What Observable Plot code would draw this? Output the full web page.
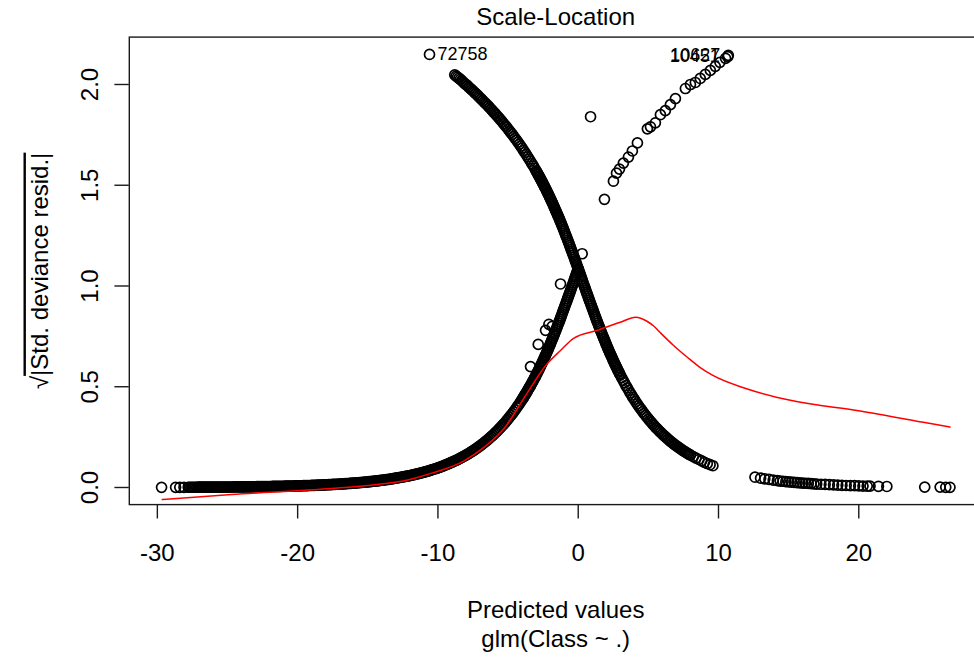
<!DOCTYPE html>
<html>
<head>
<meta charset="utf-8">
<script src="https://cdn.jsdelivr.net/npm/d3@7"></script>
<script src="https://cdn.jsdelivr.net/npm/@observablehq/plot@0.6"></script>
<style>
  html, body { margin: 0; padding: 0; background: #fff; }
  #chart { width: 974px; height: 659px; overflow: hidden; }
</style>
</head>
<body>
<div id="chart"></div>
<script>
// ---- Text ----
const titleText = "Scale-Location";
const xLabelText = "Predicted values";
const subLabelText = "glm(Class ~ .)";
const yLabelRoot = "√";
const yLabelBody = "|Std. deviance resid.|";

// ---- Axes ----
const xTicks = [-30, -20, -10, 0, 10, 20];
const xTickLabels = ["-30", "-20", "-10", "0", "10", "20"];
const yTicks = [0, 0.5, 1, 1.5, 2];
const yTickLabels = ["0.0", "0.5", "1.0", "1.5", "2.0"];

// ---- Points, group A (rising branch) ----
const xA = [-29.7, -28.7, -28.4, -28.1,
  -27.8, -27.6, -27.4, -27.2, -27.0, -26.8, -26.6, -26.4, -26.2, -26.0, -25.8, -25.6, -25.4, -25.2, -25.0,
  -24.8, -24.6, -24.4, -24.2, -24.0, -23.8, -23.6, -23.4, -23.2, -23.0, -22.8, -22.6, -22.4, -22.2, -22.0,
  -21.8, -21.6, -21.4, -21.2, -21.0, -20.8, -20.6, -20.4, -20.2, -20.0, -19.8, -19.6, -19.4, -19.2, -19.0,
  -18.8, -18.6, -18.4, -18.2, -18.0, -17.8, -17.6, -17.4, -17.2, -17.0, -16.8, -16.6, -16.4, -16.2, -16.0,
  -15.8, -15.6, -15.4, -15.2, -15.0, -14.8, -14.6, -14.4, -14.2, -14.0, -13.8, -13.6, -13.4, -13.2, -13.0,
  -12.8, -12.6, -12.4, -12.2, -12.0, -11.8, -11.6, -11.4, -11.2, -11.0, -10.8, -10.6, -10.4, -10.2, -10.0,
  -9.8, -9.6, -9.4, -9.2, -9.0, -8.8, -8.6, -8.4, -8.2, -8.0,
  -7.9, -7.8, -7.7, -7.6, -7.5, -7.4, -7.3, -7.2, -7.1, -7.0, -6.9, -6.8, -6.7, -6.6, -6.5, -6.4, -6.3, -6.2, -6.1, -6.0,
  -5.9, -5.8, -5.7, -5.6, -5.5, -5.4, -5.3, -5.2, -5.1, -5.0, -4.9, -4.8, -4.7, -4.6, -4.5, -4.4, -4.3, -4.2, -4.1, -4.0,
  -3.9, -3.8, -3.7, -3.6, -3.5, -3.4, -3.3, -3.2, -3.1, -3.0, -2.9, -2.8, -2.7, -2.6, -2.5, -2.4, -2.3, -2.2, -2.1, -2.0,
  -1.9, -1.8, -1.7, -1.6, -1.5, -1.4, -1.3, -1.2, -1.1, -1.0, -0.9, -0.8, -0.7, -0.6, -0.5, -0.4, -0.3, -0.2, -0.1, 0.0,
  -3.4, -2.85, -2.33, -2.09, -1.85, -1.26, 0.28, 0.88,
  1.87, 2.51, 2.73, 2.94, 3.22, 3.58, 3.86, 4.22, 4.93, 5.15, 5.50, 5.86, 6.21, 6.57, 6.93, 7.64, 8.00, 8.35,
  8.70, 9.06, 9.42, 9.77, 10.1, 10.5, 10.66, 10.7];
const yA = [0.0007, 0.0009, 0.001, 0.001,
  0.0011, 0.0012, 0.0012, 0.0013, 0.0014, 0.0015, 0.0015, 0.0016, 0.0017, 0.0018, 0.0019, 0.0020, 0.0021, 0.0022, 0.0023,
  0.0024, 0.0025, 0.0027, 0.0028, 0.0029, 0.0031, 0.0033, 0.0034, 0.0036, 0.0038, 0.0040, 0.0042, 0.0044, 0.0046, 0.0049,
  0.0051, 0.0054, 0.0057, 0.0059, 0.0062, 0.0066, 0.0069, 0.0072, 0.0076, 0.0080, 0.0084, 0.0089, 0.0093, 0.0098, 0.0103,
  0.0108, 0.0114, 0.0120, 0.0126, 0.0132, 0.0139, 0.0146, 0.0154, 0.0161, 0.0170, 0.0178, 0.0188, 0.0197, 0.0207, 0.0218,
  0.0229, 0.0241, 0.0253, 0.0266, 0.0280, 0.0294, 0.0309, 0.0325, 0.0342, 0.0359, 0.0378, 0.0397, 0.0417, 0.0439, 0.0461,
  0.0485, 0.0510, 0.0536, 0.0563, 0.0592, 0.0623, 0.0654, 0.0688, 0.0723, 0.0760, 0.0799, 0.0840, 0.0883, 0.0929, 0.0976,
  0.1026, 0.1079, 0.1134, 0.1192, 0.1254, 0.1318, 0.1385, 0.1456, 0.1531, 0.1609,
  0.1650, 0.1692, 0.1735, 0.1779, 0.1824, 0.1870, 0.1917, 0.1966, 0.2016, 0.2067, 0.2119, 0.2172, 0.2227, 0.2284, 0.2341, 0.2401, 0.2462, 0.2524, 0.2588, 0.2653,
  0.2719, 0.2788, 0.2858, 0.2930, 0.3004, 0.3079, 0.3157, 0.3236, 0.3318, 0.3403, 0.3488, 0.3576, 0.3665, 0.3757, 0.3854, 0.3950, 0.4049, 0.4151, 0.4255, 0.4365,
  0.447, 0.459, 0.470, 0.482, 0.494, 0.506, 0.519, 0.532, 0.545, 0.558, 0.572, 0.586, 0.601, 0.615, 0.630, 0.646, 0.661, 0.677, 0.693, 0.710,
  0.727, 0.744, 0.761, 0.779, 0.797, 0.815, 0.833, 0.852, 0.871, 0.890, 0.909, 0.928, 0.948, 0.967, 0.987, 1.006, 1.026, 1.046, 1.066, 1.085,
  0.60, 0.71, 0.78, 0.81, 0.80, 1.01, 1.16, 1.84,
  1.43, 1.52, 1.56, 1.58, 1.61, 1.64, 1.67, 1.71, 1.78, 1.79, 1.81, 1.85, 1.87, 1.90, 1.93, 1.98, 2.00, 2.01,
  2.03, 2.05, 2.07, 2.09, 2.11, 2.13, 2.138, 2.145];

// ---- Points, group A, further points read in the dense band ----
const xA2 = [-27.7, -27.5, -27.3, -27.1, -26.9, -26.7, -26.5, -26.3, -26.1, -25.9, -25.7, -25.5, -25.3, -25.1,
  -24.9, -24.7, -24.5, -24.3, -24.1, -23.9, -23.7, -23.5, -23.3, -23.1, -22.9, -22.7, -22.5, -22.3, -22.1,
  -21.9, -21.7, -21.5, -21.3, -21.1, -20.9, -20.7, -20.5, -20.3, -20.1, -19.9, -19.7, -19.5, -19.3, -19.1,
  -18.9, -18.7, -18.5, -18.3, -18.1, -17.9, -17.7, -17.5, -17.3, -17.1, -16.9, -16.7, -16.5, -16.3, -16.1,
  -15.9, -15.7, -15.5, -15.3, -15.1, -14.9, -14.7, -14.5, -14.3, -14.1, -13.9, -13.7, -13.5, -13.3, -13.1,
  -12.9, -12.7, -12.5, -12.3, -12.1, -11.9, -11.7, -11.5, -11.3, -11.1, -10.9, -10.7, -10.5, -10.3, -10.1,
  -9.9, -9.7, -9.5, -9.3, -9.1, -8.9, -8.7, -8.5, -8.3, -8.1,
  -3.95, -3.85, -3.75, -3.65, -3.55, -3.45, -3.35, -3.25, -3.15, -3.05,
  -2.95, -2.85, -2.75, -2.65, -2.55, -2.45, -2.35, -2.25, -2.15, -2.05, -1.95, -1.85, -1.75, -1.65, -1.55,
  -1.45, -1.35, -1.25, -1.15, -1.05, -0.95, -0.85, -0.75, -0.65, -0.55, -0.45, -0.35, -0.25, -0.15, -0.05];
const yA2 = [0.0011, 0.0012, 0.0013, 0.0014, 0.0014, 0.0015, 0.0016, 0.0017, 0.0018, 0.0018, 0.0019, 0.0020, 0.0021, 0.0022,
  0.0024, 0.0025, 0.0026, 0.0027, 0.0029, 0.0030, 0.0032, 0.0033, 0.0035, 0.0037, 0.0039, 0.0041, 0.0043, 0.0045, 0.0048,
  0.0050, 0.0053, 0.0055, 0.0058, 0.0061, 0.0064, 0.0067, 0.0071, 0.0074, 0.0078, 0.0082, 0.0086, 0.0091, 0.0096, 0.0100,
  0.0105, 0.0111, 0.0117, 0.0123, 0.0129, 0.0135, 0.0142, 0.0150, 0.0157, 0.0165, 0.0174, 0.0183, 0.0192, 0.0202, 0.0212,
  0.0223, 0.0235, 0.0247, 0.0260, 0.0273, 0.0287, 0.0302, 0.0317, 0.0333, 0.0350, 0.0368, 0.0387, 0.0407, 0.0428, 0.0450,
  0.0473, 0.0497, 0.0523, 0.0550, 0.0578, 0.0607, 0.0638, 0.0671, 0.0705, 0.0741, 0.0779, 0.0819, 0.0861, 0.0906, 0.0952,
  0.1001, 0.1052, 0.1106, 0.1163, 0.1223, 0.1285, 0.1351, 0.1420, 0.1493, 0.1570,
  0.442, 0.453, 0.464, 0.476, 0.488, 0.500, 0.512, 0.525, 0.538, 0.551,
  0.565, 0.579, 0.594, 0.608, 0.623, 0.638, 0.654, 0.669, 0.685, 0.702, 0.719, 0.736, 0.753, 0.770, 0.788,
  0.806, 0.824, 0.843, 0.862, 0.881, 0.900, 0.919, 0.938, 0.958, 0.977, 0.997, 1.016, 1.036, 1.056, 1.076];

// ---- Points, group B (falling branch) ----
const xB = [-10.6,
  -8.8, -8.7, -8.6, -8.5, -8.4, -8.3, -8.2, -8.1, -8.0, -7.9, -7.8, -7.7, -7.6, -7.5, -7.4, -7.3, -7.2, -7.1, -7.0,
  -6.9, -6.8, -6.7, -6.6, -6.5, -6.4, -6.3, -6.2, -6.1, -6.0, -5.9, -5.8, -5.7, -5.6, -5.5, -5.4, -5.3, -5.2, -5.1, -5.0,
  -4.9, -4.8, -4.7, -4.6, -4.5, -4.4, -4.3, -4.2, -4.1,
  -4.0, -3.9, -3.8, -3.7, -3.6, -3.5, -3.4, -3.3, -3.2, -3.1, -3.0, -2.9, -2.8, -2.7, -2.6, -2.5, -2.4, -2.3, -2.2, -2.1,
  -2.0, -1.9, -1.8, -1.7, -1.6, -1.5, -1.4, -1.3, -1.2, -1.1, -1.0, -0.9, -0.8, -0.7, -0.6, -0.5, -0.4, -0.3, -0.2, -0.1,
  0.0, 0.1, 0.2, 0.3, 0.4, 0.5, 0.6, 0.7, 0.8, 0.9, 1.0, 1.1, 1.2, 1.3, 1.4, 1.5, 1.6, 1.7, 1.8, 1.9,
  2.0, 2.1, 2.2, 2.3, 2.4, 2.5, 2.6, 2.7, 2.8, 2.9, 3.0, 3.1, 3.2, 3.3, 3.4, 3.5, 3.6, 3.7, 3.8, 3.9, 4.0,
  4.1, 4.2, 4.3, 4.4, 4.5, 4.6, 4.7, 4.8, 4.9, 5.0, 5.1, 5.2, 5.3, 5.4, 5.5, 5.6, 5.7, 5.8, 5.9, 6.0,
  6.1, 6.2, 6.3, 6.4, 6.5, 6.6, 6.7, 6.8, 6.9, 7.0, 7.1, 7.2, 7.3, 7.4, 7.5, 7.6, 7.7, 7.8, 7.9, 8.0,
  8.2, 8.4, 8.6, 8.8, 9.0, 9.2, 9.4, 9.6,
  12.6, 13.0, 13.3, 13.6, 13.9, 14.2, 14.4, 14.6, 14.8, 15.0, 15.2, 15.4, 15.6, 15.8, 16.0, 16.2, 16.4, 16.6, 16.8, 17.0,
  17.3, 17.6, 17.9, 18.2, 18.5, 18.8, 19.1, 19.4, 19.7, 20.0, 20.3, 20.6, 20.8, 21.4, 22.0, 24.7, 25.8, 26.2, 26.5];
const yB = [2.149,
  2.048, 2.042, 2.037, 2.031, 2.025, 2.019, 2.012, 2.006, 2.000, 1.994, 1.987, 1.981, 1.975, 1.968, 1.961, 1.955, 1.948, 1.941, 1.934,
  1.927, 1.920, 1.913, 1.906, 1.899, 1.892, 1.884, 1.877, 1.869, 1.861, 1.854, 1.846, 1.838, 1.830, 1.822, 1.813, 1.805, 1.796, 1.788, 1.779,
  1.770, 1.761, 1.752, 1.743, 1.733, 1.724, 1.714, 1.704, 1.694,
  1.684, 1.673, 1.663, 1.652, 1.641, 1.630, 1.619, 1.607, 1.596, 1.584, 1.571, 1.559, 1.546, 1.534, 1.520, 1.507, 1.493, 1.480, 1.465, 1.451,
  1.436, 1.421, 1.406, 1.390, 1.374, 1.358, 1.342, 1.325, 1.308, 1.291, 1.273, 1.255, 1.237, 1.219, 1.200, 1.181, 1.163, 1.143, 1.124, 1.105,
  1.085, 1.066, 1.046, 1.026, 1.006, 0.987, 0.967, 0.948, 0.928, 0.909, 0.890, 0.871, 0.852, 0.833, 0.815, 0.797, 0.779, 0.761, 0.744, 0.727,
  0.710, 0.693, 0.677, 0.661, 0.646, 0.630, 0.615, 0.601, 0.586, 0.572, 0.558, 0.545, 0.532, 0.519, 0.506, 0.494, 0.482, 0.470, 0.459, 0.447, 0.437,
  0.426, 0.415, 0.405, 0.395, 0.386, 0.376, 0.367, 0.358, 0.349, 0.340, 0.332, 0.324, 0.316, 0.308, 0.300, 0.293, 0.286, 0.279, 0.272, 0.265,
  0.259, 0.252, 0.246, 0.240, 0.234, 0.228, 0.223, 0.217, 0.212, 0.207, 0.202, 0.197, 0.192, 0.187, 0.182, 0.178, 0.173, 0.169, 0.165, 0.161,
  0.153, 0.146, 0.139, 0.132, 0.125, 0.119, 0.113, 0.108,
  0.051, 0.046, 0.043, 0.040, 0.037, 0.034, 0.032, 0.031, 0.029, 0.028, 0.027, 0.025, 0.024, 0.023, 0.022, 0.021, 0.020, 0.019, 0.018, 0.017,
  0.016, 0.015, 0.014, 0.013, 0.012, 0.011, 0.010, 0.009, 0.009, 0.008, 0.007, 0.007, 0.007, 0.006, 0.005, 0.002, 0.002, 0.001, 0.001];

// ---- Points, group B, further points read in the steep part of the band ----
const xB2 = [-2.95, -2.85, -2.75, -2.65, -2.55, -2.45, -2.35, -2.25, -2.15, -2.05, -1.95, -1.85, -1.75, -1.65, -1.55,
  -1.45, -1.35, -1.25, -1.15, -1.05, -0.95, -0.85, -0.75, -0.65, -0.55, -0.45, -0.35, -0.25, -0.15, -0.05,
  0.05, 0.15, 0.25, 0.35, 0.45, 0.55, 0.65, 0.75, 0.85, 0.95, 1.05, 1.15, 1.25, 1.35, 1.45,
  1.55, 1.65, 1.75, 1.85, 1.95, 2.05, 2.15, 2.25, 2.35, 2.45, 2.55, 2.65, 2.75, 2.85, 2.95];
const yB2 = [1.565, 1.553, 1.540, 1.527, 1.514, 1.500, 1.487, 1.473, 1.458, 1.444, 1.429, 1.414, 1.398, 1.382, 1.366,
  1.350, 1.334, 1.317, 1.300, 1.282, 1.264, 1.246, 1.228, 1.210, 1.191, 1.172, 1.153, 1.134, 1.115, 1.095,
  1.076, 1.056, 1.036, 1.016, 0.997, 0.977, 0.958, 0.938, 0.919, 0.900, 0.881, 0.862, 0.843, 0.824, 0.806,
  0.788, 0.770, 0.753, 0.736, 0.719, 0.702, 0.685, 0.669, 0.654, 0.638, 0.623, 0.608, 0.594, 0.579, 0.565];

// ---- Smoother (red line) ----
const smoothX = [-29.65, -24.7, -17.6, -15.0, -12.0, -10.5, -8.2, -6.7, -5.2, -3.9, -2.2, -1.26, -0.33, 1.37, 3.0, 4.1, 4.9, 5.4, 5.9, 6.8, 7.8, 8.7, 9.6, 12.0, 15.3, 20.1, 24.9, 26.5];
const smoothY = [-0.06, -0.035, -0.005, 0.01, 0.04, 0.07, 0.13, 0.20, 0.30, 0.44, 0.615, 0.68, 0.74, 0.78, 0.82, 0.845, 0.825, 0.80, 0.765, 0.705, 0.645, 0.595, 0.556, 0.49, 0.43, 0.38, 0.32, 0.30];

// ---- Labelled points ----
const idX = [-10.6, 10.66, 10.7];
const idY = [2.149, 2.138, 2.145];
const idText = ["72758", "10451", "10627"];
const idAnchor = ["start", "end", "end"];

// ---- Build tables ----
const points = xA.map((x, i) => ({x, y: yA[i]}))
  .concat(xA2.map((x, i) => ({x, y: yA2[i]})))
  .concat(xB.map((x, i) => ({x, y: yB[i]})))
  .concat(xB2.map((x, i) => ({x, y: yB2[i]})));
const smooth = smoothX.map((x, i) => ({x, y: smoothY[i]}));
const ids = idX.map((x, i) => ({x, y: idY[i], t: idText[i], a: idAnchor[i]}));
const idsLeft = ids.filter(d => d.a === "start");
const idsRight = ids.filter(d => d.a === "end");

const FONT = "'Liberation Sans', Arial, Helvetica, sans-serif";

const svg = Plot.plot({
  width: 974,
  height: 659,
  marginLeft: 128.8,
  marginRight: -7.6,
  marginTop: 36.6,
  marginBottom: 154.9,
  x: {domain: [-32.0, 28.79], axis: null},
  y: {domain: [-0.0849, 2.2352], axis: null},
  style: {fontFamily: FONT, fontSize: "24px", background: "#fff", color: "#000", overflow: "hidden"},
  marks: [
    Plot.dot(points, {x: "x", y: "y", r: 5, stroke: "#000", strokeWidth: 1.7, fill: "none"}),
    Plot.line(smooth, {x: "x", y: "y", stroke: "#ff0000", strokeWidth: 1.5, curve: "monotone-x"}),
    Plot.text(idsLeft, {x: "x", y: "y", text: "t", textAnchor: "start", lineAnchor: "middle", dx: 8, fontSize: 18, fill: "#000"}),
    Plot.text(idsRight, {x: "x", y: "y", text: "t", textAnchor: "end", lineAnchor: "middle", dx: -8, fontSize: 18, fill: "#000"}),
    Plot.frame({stroke: "#1a1a1a", strokeWidth: 1.4}),
    Plot.axisX(xTicks, {tickSize: 14.4, fill: "none", stroke: "#1a1a1a", strokeWidth: 1.4, label: null}),
    Plot.axisY(yTicks, {tickSize: 14.4, fill: "none", stroke: "#1a1a1a", strokeWidth: 1.4, label: null}),
    Plot.text(xTicks, {x: d => d, text: (d, i) => xTickLabels[i], frameAnchor: "bottom", lineAnchor: "bottom", dy: 55.9, fontSize: 24, fill: "#000"}),
    Plot.text(yTicks, {y: d => d, text: (d, i) => yTickLabels[i], frameAnchor: "left", lineAnchor: "bottom", textAnchor: "middle", rotate: -90, dx: -31.8, fontSize: 24, fill: "#000"}),
    Plot.text([titleText], {frameAnchor: "top", lineAnchor: "bottom", dy: -11.6, fontSize: 24, fill: "#000"}),
    Plot.text([xLabelText], {frameAnchor: "bottom", lineAnchor: "bottom", dy: 112.9, fontSize: 24, fill: "#000"}),
    Plot.text([subLabelText], {frameAnchor: "bottom", lineAnchor: "bottom", dy: 141.9, fontSize: 24, fill: "#000"}),
    Plot.text([yLabelRoot + yLabelBody], {frameAnchor: "left", lineAnchor: "bottom", textAnchor: "middle", rotate: -90, dx: -81.8, fontSize: 24, fill: "#000"})
  ]
});

// Overline over the radicand of the y-axis label
const NS = "http://www.w3.org/2000/svg";
svg.querySelectorAll("text").forEach(t => {
  if (t.textContent === yLabelRoot + yLabelBody) {
    t.textContent = "";
    const a = document.createElementNS(NS, "tspan");
    a.textContent = yLabelRoot;
    const b = document.createElementNS(NS, "tspan");
    b.textContent = yLabelBody;
    b.setAttribute("style", "text-decoration: overline;");
    t.appendChild(a);
    t.appendChild(b);
  }
});

document.getElementById("chart").appendChild(svg);
</script>
</body>
</html>
